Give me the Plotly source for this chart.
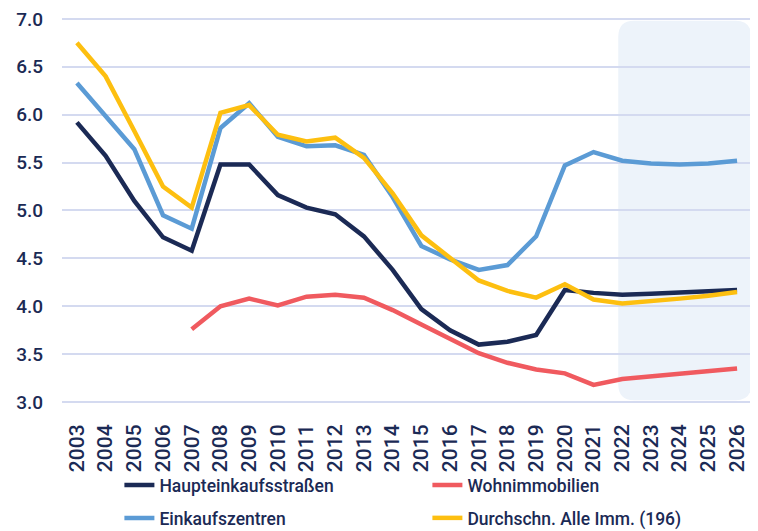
import plotly.graph_objects as go

years = list(range(2003, 2027))
haupt = [5.92, 5.57, 5.10, 4.72, 4.58, 5.48, 5.48, 5.16, 5.03, 4.96, 4.73, 4.38,
         3.97, 3.75, 3.60, 3.63, 3.70, 4.17, 4.14, 4.12, 4.13, 4.14, 4.15, 4.17]
einkauf = [6.33, 5.99, 5.64, 4.95, 4.81, 5.86, 6.12, 5.77, 5.67, 5.68, 5.58, 5.14,
           4.63, 4.49, 4.38, 4.43, 4.73, 5.47, 5.61, 5.52, 5.49, 5.48, 5.49, 5.52]
durch = [6.75, 6.40, 5.83, 5.25, 5.03, 6.02, 6.10, 5.79, 5.72, 5.76, 5.55, 5.18,
         4.74, 4.50, 4.27, 4.16, 4.09, 4.23, 4.07, 4.03, 4.05, 4.08, 4.11, 4.15]
wohn_years = list(range(2007, 2027))
wohn = [3.76, 4.00, 4.08, 4.01, 4.10, 4.12, 4.09, 3.96, 3.81, 3.66, 3.51, 3.41,
        3.34, 3.30, 3.18, 3.24, 3.27, 3.30, 3.32, 3.35]
y_ticks = [3.0, 3.5, 4.0, 4.5, 5.0, 5.5, 6.0, 6.5, 7.0]
forecast_start, x_end = 2021.86, 2026.52

navy = "#1b2a55"
fnt = "Roboto, sans-serif"
W, H = 750, 523
fig = go.Figure()
fig.add_trace(go.Scatter(x=years, y=haupt, mode="lines", name="Haupteinkaufsstraßen",
                         line=dict(color=navy, width=4.5), legend="legend"))
fig.add_trace(go.Scatter(x=wohn_years, y=wohn, mode="lines", name="Wohnimmobilien",
                         line=dict(color="#f05a5f", width=4.5), legend="legend"))
fig.add_trace(go.Scatter(x=years, y=einkauf, mode="lines", name="Einkaufszentren",
                         line=dict(color="#5b9bd5", width=4.5), legend="legend2"))
fig.add_trace(go.Scatter(x=years, y=durch, mode="lines", name="Durchschn. Alle Imm. (196)",
                         line=dict(color="#fdbf10", width=4.5), legend="legend2"))

# rounded shaded forecast box
x0, x1, y0, y1 = forecast_start, x_end - 0.02, 3.02, 6.98
rx, ry = 0.55, 0.17
path = (f"M {x0+rx},{y0} L {x1-rx},{y0} Q {x1},{y0} {x1},{y0+ry} "
        f"L {x1},{y1-ry} Q {x1},{y1} {x1-rx},{y1} L {x0+rx},{y1} "
        f"Q {x0},{y1} {x0},{y1-ry} L {x0},{y0+ry} Q {x0},{y0} {x0+rx},{y0} Z")
fig.add_shape(type="path", path=path, xref="x", yref="y", fillcolor="#edf3fa",
              line=dict(width=0), layer="below")

leg_common = dict(orientation="h", xref="container", yref="container",
                  xanchor="left", yanchor="middle", x=111.4 / W,
                  entrywidth=263, entrywidthmode="pixels",
                  font=dict(size=17.5, color=navy, family=fnt, weight=500),
                  bgcolor="rgba(0,0,0,0)")
fig.update_layout(
    width=W, height=H,
    margin=dict(l=54, r=6, t=8, b=127, autoexpand=False),
    plot_bgcolor="white", paper_bgcolor="white",
    font=dict(family=fnt, color=navy),
    showlegend=True,
    legend=dict(**leg_common, y=1 - 477 / H),
    legend2=dict(**leg_common, y=1 - 510 / H),
)
fig.update_xaxes(range=[2002.48, x_end], tickmode="array", tickvals=years,
                 ticktext=[str(y) for y in years], tickangle=-90, automargin=False,
                 tickfont=dict(size=21, color=navy, family=fnt, weight=500),
                 showgrid=False, zeroline=False, ticklabeloverflow="allow",
                 showline=False, ticks="outside", ticklen=11, tickcolor="rgba(0,0,0,0)")
fig.update_yaxes(range=[2.98, 7.03], tickmode="array", tickvals=y_ticks,
                 ticktext=[f"{v:.1f}" for v in y_ticks], automargin=False,
                 tickfont=dict(size=19, color=navy, family=fnt, weight=500),
                 ticklabeloverflow="allow",
                 showgrid=True, gridcolor="#d4daf0", gridwidth=2, zeroline=False,
                 showline=False, ticks="outside", ticklen=14, tickcolor="rgba(0,0,0,0)")

fig.write_html("out.html")
